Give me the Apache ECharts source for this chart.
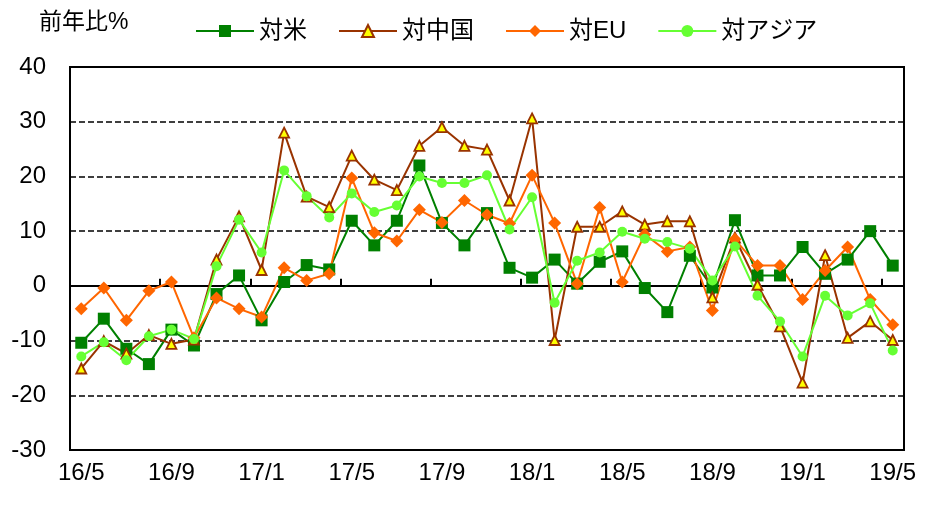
<!DOCTYPE html>
<html><head><meta charset="utf-8">
<script src="https://cdn.jsdelivr.net/npm/echarts@6/dist/echarts.min.js"></script>
<style>html,body{margin:0;padding:0;background:#fff}#c{width:940px;height:507px}</style>
</head><body><div id="c"></div>
<script>
const categories = ['16/5','16/6','16/7','16/8','16/9','16/10','16/11','16/12',
  '17/1','17/2','17/3','17/4','17/5','17/6','17/7','17/8','17/9','17/10','17/11','17/12',
  '18/1','18/2','18/3','18/4','18/5','18/6','18/7','18/8','18/9','18/10','18/11','18/12',
  '19/1','19/2','19/3','19/4','19/5'];
const seriesNames = ['対米','対中国','対EU','対アジア'];
const usa   = [-10.4,-6.0,-11.5,-14.3,-8.0,-10.9,-1.5,1.9,-6.3,0.7,3.8,3.0,11.9,7.4,11.9,22.0,11.5,7.4,13.3,3.3,1.5,4.8,0.4,4.4,6.3,-0.4,-4.8,5.5,-0.3,12.0,1.9,1.9,7.1,2.2,4.8,10.0,3.7];
const china = [-15.1,-10.1,-12.4,-9.0,-10.6,-9.8,4.8,12.7,2.9,28.0,16.3,14.4,23.8,19.4,17.5,25.6,29.0,25.6,24.9,15.6,30.6,-9.9,10.8,10.8,13.6,11.2,11.8,11.8,-2.1,8.8,0.2,-7.4,-17.7,5.6,-9.5,-6.5,-9.9];
const eu    = [-4.2,-0.4,-6.3,-0.9,0.7,-9.5,-2.2,-4.2,-5.7,3.3,1.0,2.2,19.7,9.7,8.2,13.9,11.6,15.6,13.0,11.4,20.2,11.5,0.4,14.3,0.7,9.4,6.3,7.1,-4.5,8.5,3.7,3.7,-2.5,2.8,7.1,-2.5,-7.1];
const asia  = [-12.9,-10.3,-13.6,-9.2,-8.0,-9.7,3.6,12.1,6.1,21.1,16.4,12.5,16.9,13.5,14.7,20.0,18.8,18.8,20.2,10.3,16.2,-3.1,4.6,6.1,9.9,8.6,8.0,6.8,1.0,7.2,-1.8,-6.5,-12.9,-1.8,-5.4,-3.2,-11.8];
const yMin = -30, yMax = 40, yStep = 10;

const FONT = '"Liberation Sans", Arial, "Noto Sans CJK JP", sans-serif';
const chart = echarts.init(document.getElementById('c'));
chart.setOption({
  animation: false,
  backgroundColor: '#fff',
  textStyle: { fontFamily: FONT, color: '#000' },
  title: {
    text: '前年比%', left: 34, top: 6,
    textStyle: { fontSize: 23, fontWeight: 'normal', color: '#000', fontFamily: FONT }
  },
  legend: {
    data: seriesNames, left: 195, top: 19, padding: 0,
    itemWidth: 58, itemHeight: 15, itemGap: 31,
    textStyle: { fontSize: 24, color: '#000', fontFamily: FONT }
  },
  grid: {
    left: 70, right: 36, top: 67, bottom: 57,
    show: true, borderColor: '#000', borderWidth: 2, containLabel: false
  },
  xAxis: [
    {
      type: 'category', data: categories, position: 'bottom', boundaryGap: true,
      axisLine: { show: false, onZero: false },
      axisTick: { show: false },
      axisLabel: { interval: 3, fontSize: 24, color: '#000', margin: 11, fontFamily: FONT },
      splitLine: { show: false }
    },
    {
      type: 'category', data: categories, position: 'top', boundaryGap: true,
      axisLine: { show: true, onZero: true, lineStyle: { color: '#000', width: 2 } },
      axisTick: { show: true, interval: 3, inside: false, length: 7, lineStyle: { color: '#000', width: 2 } },
      axisLabel: { show: false },
      splitLine: { show: false }
    }
  ],
  yAxis: {
    type: 'value', min: yMin, max: yMax, interval: yStep,
    axisLine: { show: false },
    axisTick: { show: false },
    axisLabel: { fontSize: 24, color: '#000', margin: 24, fontFamily: FONT },
    splitLine: { show: true, lineStyle: { color: '#000', width: 1.5, type: [6, 3] } }
  },
  series: [
    { name: '対米', type: 'line', data: usa, xAxisIndex: 0, symbol: 'rect', symbolSize: 12, showAllSymbol: true,
      lineStyle: { color: '#008000', width: 2 }, itemStyle: { color: '#008000' } },
    { name: '対中国', type: 'line', data: china, xAxisIndex: 0, symbol: 'triangle', symbolSize: 10, showAllSymbol: true,
      lineStyle: { color: '#993300', width: 2 }, itemStyle: { color: '#FFFF00', borderColor: '#993300', borderWidth: 1.8 } },
    { name: '対EU', type: 'line', data: eu, xAxisIndex: 0, symbol: 'diamond', symbolSize: 13, showAllSymbol: true,
      lineStyle: { color: '#FF6600', width: 2 }, itemStyle: { color: '#FF6600' } },
    { name: '対アジア', type: 'line', data: asia, xAxisIndex: 0, symbol: 'circle', symbolSize: 10, showAllSymbol: true,
      lineStyle: { color: '#66FF33', width: 2 }, itemStyle: { color: '#66FF33' } }
  ]
});
</script></body></html>
